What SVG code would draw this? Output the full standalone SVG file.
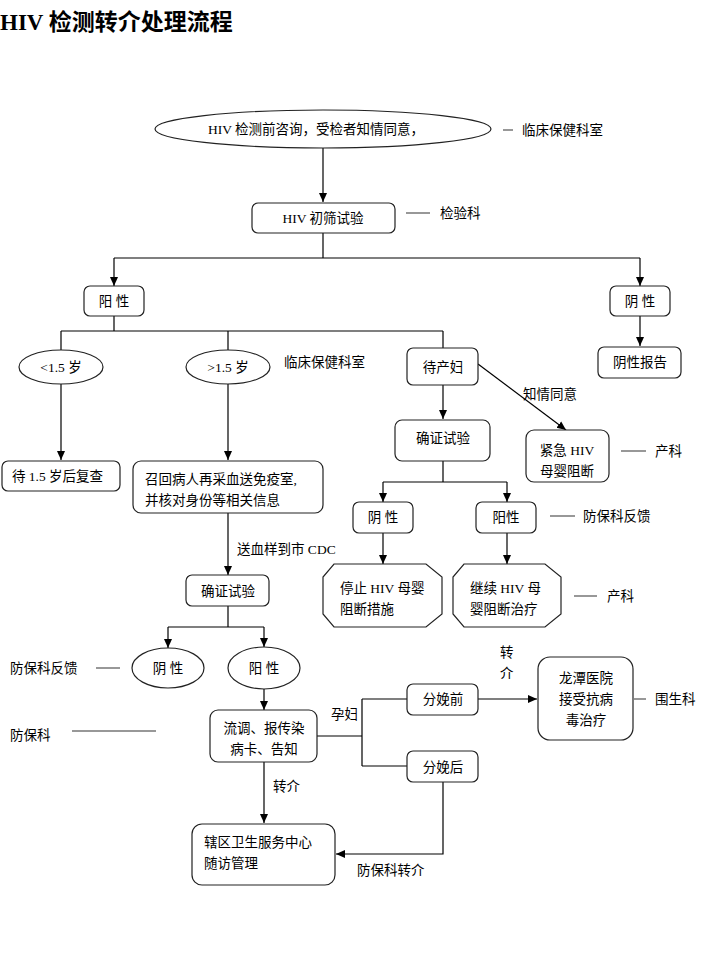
<svg xmlns="http://www.w3.org/2000/svg" width="721" height="958" viewBox="0 0 721 958">
<style>
text{font-family:"Liberation Serif","Noto Sans CJK SC",serif;font-size:13.5px;fill:#000}
.c{text-anchor:middle}
.t{font-size:23px;font-weight:bold}
.n rect,.n ellipse,.n polygon{fill:#fff;stroke:#222;stroke-width:1.2}
.ln{stroke:#000;stroke-width:1.2;fill:none}
.g{stroke:#777;stroke-width:1.5}
</style>
<defs>
<marker id="a" markerWidth="10" markerHeight="10" refX="9" refY="5" orient="auto" markerUnits="userSpaceOnUse">
<path d="M0,1 L9,5 L0,9 Z" fill="#000"/>
</marker>
</defs>
<rect width="721" height="958" fill="#fff"/>
<text class="t" x="0" y="30">HIV 检测转介处理流程</text>

<g id="connectors">
<path class="ln" d="M323,148 V202" marker-end="url(#a)"/>
<path class="ln" d="M323,233 V258 M114,258 H640"/>
<path class="ln" d="M114,258 V286" marker-end="url(#a)"/>
<path class="ln" d="M640,258 V286" marker-end="url(#a)"/>
<path class="ln" d="M114,316 V331 M61,331 H443 M61,331 V350 M228,331 V350 M443,331 V348"/>
<path class="ln" d="M640,316 V346" marker-end="url(#a)"/>
<path class="ln" d="M61,384 V460" marker-end="url(#a)"/>
<path class="ln" d="M228,384 V460" marker-end="url(#a)"/>
<path class="ln" d="M443,385 V419" marker-end="url(#a)"/>
<path class="ln" d="M478,364 L566,430" marker-end="url(#a)"/>
<path class="ln" d="M443,461 V482 M383,482 H507"/>
<path class="ln" d="M383,482 V502" marker-end="url(#a)"/>
<path class="ln" d="M507,482 V502" marker-end="url(#a)"/>
<path class="ln" d="M383,533 V564" marker-end="url(#a)"/>
<path class="ln" d="M507,533 V564" marker-end="url(#a)"/>
<path class="ln" d="M228,513 V575" marker-end="url(#a)"/>
<path class="ln" d="M228,606 V627 M168,627 H264"/>
<path class="ln" d="M168,627 V648" marker-end="url(#a)"/>
<path class="ln" d="M264,627 V647" marker-end="url(#a)"/>
<path class="ln" d="M264,689 V710" marker-end="url(#a)"/>
<path class="ln" d="M317,736 H362 M362,699 V766 M362,699 H407 M362,766 H407"/>
<path class="ln" d="M478,699 H537" marker-end="url(#a)"/>
<path class="ln" d="M443,782 V854 H336" marker-end="url(#a)"/>
<path class="ln" d="M264,762 V823" marker-end="url(#a)"/>
<path class="g" d="M503,130 H513 M406,213 H430 M621,451 H646 M550,516 H575 M574,596 H597 M96,668 H120 M72,731 H156 M634,699 H646"/>
</g>

<g id="n_consult" class="n"><ellipse cx="323" cy="129" rx="168" ry="19"/><text class="c" x="316" y="134">HIV 检测前咨询，受检者知情同意，</text></g>
<text x="522" y="135">临床保健科室</text>
<g id="n_screen" class="n"><rect x="252" y="203" width="143" height="30" rx="6"/><text class="c" x="323" y="223">HIV 初筛试验</text></g>
<text x="440" y="218">检验科</text>
<g id="n_pos" class="n"><rect x="84" y="286" width="60" height="30" rx="6"/><text class="c" x="114" y="306">阳  性</text></g>
<g id="n_neg" class="n"><rect x="610" y="286" width="60" height="30" rx="6"/><text class="c" x="640" y="306">阴  性</text></g>
<g id="n_lt15" class="n"><ellipse cx="61" cy="367" rx="42" ry="17"/><text class="c" x="61" y="372">&lt;1.5 岁</text></g>
<g id="n_gt15" class="n"><ellipse cx="228" cy="367" rx="42" ry="17"/><text class="c" x="228" y="372">&gt;1.5 岁</text></g>
<text x="284" y="367">临床保健科室</text>
<g id="n_preg" class="n"><rect x="407" y="348" width="71" height="37" rx="6"/><text class="c" x="443" y="372">待产妇</text></g>
<g id="n_negrep" class="n"><rect x="598" y="347" width="83" height="31" rx="6"/><text class="c" x="640" y="367">阴性报告</text></g>
<g id="n_wait" class="n"><rect x="2" y="461" width="118" height="30" rx="6"/><text x="12" y="481">待 1.5 岁后复查</text></g>
<g id="n_recall" class="n"><rect x="133" y="461" width="190" height="52" rx="8"/><text x="145" y="484">召回病人再采血送免疫室,</text><text x="145" y="505">并核对身份等相关信息</text></g>
<g id="n_confirm1" class="n"><rect x="395" y="420" width="95" height="41" rx="7"/><text class="c" x="443" y="443">确证试验</text></g>
<text x="523" y="399">知情同意</text>
<g id="n_emerg" class="n"><rect x="526" y="430" width="83" height="52" rx="8"/><text class="c" x="567" y="455">紧急  HIV</text><text class="c" x="567" y="476">母婴阻断</text></g>
<text x="655" y="456">产科</text>
<g id="n_neg2" class="n"><rect x="353" y="502" width="60" height="31" rx="6"/><text class="c" x="383" y="522">阴  性</text></g>
<g id="n_pos2" class="n"><rect x="476" y="502" width="60" height="31" rx="6"/><text class="c" x="506" y="522">阳性</text></g>
<text x="583" y="521">防保科反馈</text>
<g id="n_stop" class="n"><polygon points="334,564 426,564 442,577 442,614 426,627 334,627 323,614 323,577"/><text x="340" y="593">停止 HIV 母婴</text><text x="340" y="614">阻断措施</text></g>
<g id="n_cont" class="n"><polygon points="464,564 545,564 561,577 561,614 545,627 464,627 453,614 453,577"/><text x="470" y="593">继续 HIV 母</text><text x="470" y="614">婴阻断治疗</text></g>
<text x="607" y="601">产科</text>
<text x="237" y="554">送血样到市 CDC</text>
<g id="n_confirm2" class="n"><rect x="186" y="575" width="83" height="31" rx="6"/><text class="c" x="228" y="596">确证试验</text></g>
<g id="n_neg3" class="n"><ellipse cx="168" cy="668" rx="36" ry="20"/><text class="c" x="168" y="673">阴  性</text></g>
<g id="n_pos3" class="n"><ellipse cx="264" cy="668" rx="36" ry="21"/><text class="c" x="264" y="673">阳  性</text></g>
<text x="10" y="673">防保科反馈</text>
<g id="n_report" class="n"><rect x="210" y="710" width="107" height="52" rx="8"/><text class="c" x="264" y="733">流调、报传染</text><text class="c" x="264" y="754">病卡、告知</text></g>
<text x="10" y="740">防保科</text>
<text x="331" y="719">孕妇</text>
<g id="n_before" class="n"><rect x="407" y="684" width="71" height="31" rx="6"/><text class="c" x="443" y="704">分娩前</text></g>
<g id="n_after" class="n"><rect x="407" y="751" width="71" height="31" rx="6"/><text class="c" x="443" y="772">分娩后</text></g>
<text x="500" y="657">转</text>
<text x="500" y="678">介</text>
<g id="n_hosp" class="n"><rect x="538" y="657" width="95" height="83" rx="12"/><text class="c" x="586" y="683">龙潭医院</text><text class="c" x="586" y="704">接受抗病</text><text class="c" x="586" y="725">毒治疗</text></g>
<text x="655" y="704">围生科</text>
<text x="273" y="791">转介</text>
<g id="n_center" class="n"><rect x="192" y="824" width="143" height="61" rx="10"/><text x="204" y="847">辖区卫生服务中心</text><text x="204" y="868">随访管理</text></g>
<text x="357" y="875">防保科转介</text>
</svg>
